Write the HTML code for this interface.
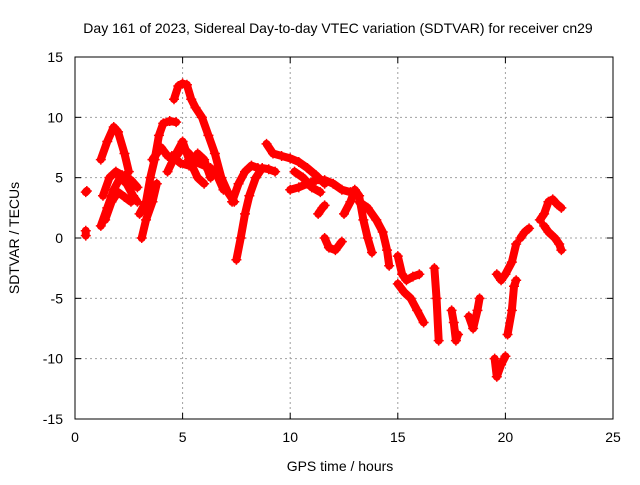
<!DOCTYPE html>
<html><head><meta charset="utf-8"><style>
body{margin:0;background:#fff}
svg text{font-family:"Liberation Sans",sans-serif;font-size:14px;fill:#000}
</style></head><body>
<svg id="chart" width="640" height="480" viewBox="0 0 640 480" xmlns="http://www.w3.org/2000/svg">
<rect width="640" height="480" fill="#fff"/>
<text x="338" y="33" text-anchor="middle">Day 161 of 2023, Sidereal Day-to-day VTEC variation (SDTVAR) for receiver cn29</text>
<g id="grid"></g>
<g id="ticks"></g>
<g id="series"></g>
<rect x="75" y="57" width="538" height="362" fill="none" stroke="#000" stroke-width="1"/>
<text x="340" y="471" text-anchor="middle">GPS time / hours</text>
<text transform="translate(19,238) rotate(-90)" text-anchor="middle">SDTVAR / TECUs</text>
</svg>
<script>
const xTicks=[0,5,10,15,20,25];
const yTicks=[-15,-10,-5,0,5,10,15];
const tracks=[
[[0.5,3.8],[0.55,3.9]],
[[0.5,0.2],[0.5,0.6]],
[[1.2,6.5],[1.5,8],[1.8,9.2],[2.0,8.8],[2.3,7],[2.5,5.5]],
[[1.2,1],[1.5,2.5],[1.8,4],[2.1,5],[2.4,4.5],[2.7,3.5],[2.9,3]],
[[1.3,3.5],[1.6,5],[1.9,5.5],[2.2,5.2],[2.6,4.8],[2.9,4.2]],
[[1.4,1.5],[1.7,3],[2.0,3.8],[2.3,3.4],[2.6,3]],
[[3.0,2],[3.3,3],[3.5,5],[3.7,6.5],[3.9,8.5],[4.1,9.5],[4.4,9.7],[4.7,9.6]],
[[3.1,0],[3.3,1.5],[3.6,3],[3.8,4.5]],
[[4.6,11.5],[4.8,12.6],[5.0,12.8],[5.2,12.7],[5.4,11.5],[5.6,10.8],[5.9,10],[6.2,8.5],[6.5,7],[6.8,5],[7.1,3.8],[7.4,3]],
[[3.6,6.5],[4.0,7.5],[4.3,6.8],[4.6,6.5],[5.0,7.5],[5.3,7],[5.6,6.3],[6.0,6],[6.3,5.8],[6.6,5.2],[6.9,4]],
[[4.3,5.5],[4.7,7],[5.0,8],[5.3,6.5],[5.7,5],[6.0,4.5]],
[[4.5,6.8],[4.9,6.2],[5.3,6],[5.7,7],[6.0,6.5],[6.3,5]],
[[7.5,-1.8],[7.7,0],[7.9,2],[8.1,3.5],[8.4,5],[8.7,5.8],[9.0,5.7],[9.3,5.5]],
[[7.3,3],[7.6,4.5],[7.9,5.5],[8.2,6],[8.5,5.8]],
[[8.9,7.8],[9.2,7],[9.6,6.8],[10.0,6.6],[10.4,6.3],[10.8,5.8],[11.2,5.2],[11.6,4.5]],
[[10.0,4],[10.4,4.2],[10.8,4.5],[11.2,4.8],[11.6,4.8],[12,4.5],[12.4,4],[12.8,3.8],[13.2,3.5]],
[[10.2,5.5],[10.6,5],[11.0,4.2],[11.4,3.8]],
[[11.3,2],[11.5,2.5],[11.6,2.7]],
[[11.6,0],[11.8,-0.8],[12.1,-1],[12.4,-0.3]],
[[12.5,2],[12.8,3],[13.0,4],[13.2,3.5],[13.4,1.5],[13.6,0],[13.8,-1.2]],
[[13.2,3],[13.6,2.5],[14.0,1.5],[14.3,0.5],[14.5,-1],[14.6,-2.3]],
[[15.0,-1.5],[15.2,-3],[15.4,-3.5],[15.7,-3.2],[16.0,-3]],
[[15.0,-3.8],[15.3,-4.5],[15.6,-5],[15.9,-6],[16.2,-7]],
[[16.7,-2.5],[16.8,-5],[16.9,-8.5]],
[[17.5,-6],[17.6,-7],[17.7,-8.5],[17.8,-8]],
[[18.3,-6.5],[18.5,-7.5],[18.7,-6],[18.8,-5]],
[[19.5,-10],[19.6,-11.5],[19.8,-10.5],[20.0,-9.8]],
[[19.6,-3],[19.8,-3.5],[20.0,-3],[20.3,-2],[20.5,-0.5]],
[[20.1,-8],[20.3,-6],[20.4,-4],[20.5,-3.5]],
[[20.7,0],[20.9,0.5],[21.1,0.8]],
[[21.6,1.5],[21.8,2],[22.0,3],[22.2,3.2],[22.4,2.8],[22.6,2.5]],
[[21.8,1],[22,0.5],[22.3,0],[22.5,-0.5],[22.6,-1]]
];
const NS="http://www.w3.org/2000/svg";
const X0=75,X1=613,Y0=419,Y1=57;
function sx(v){return X0+(v-0)/25*(X1-X0);}
function sy(v){return Y0-(v+15)/30*(Y0-Y1);}
function mk(tag,at,parent){const e=document.createElementNS(NS,tag);for(const k in at)e.setAttribute(k,at[k]);parent.appendChild(e);return e;}
const grid=document.getElementById('grid'),ticks=document.getElementById('ticks'),ser=document.getElementById('series');
xTicks.forEach(t=>{
  const x=sx(t);
  if(t>0&&t<25){const g=mk('line',{x1:x,x2:x,y1:Y1,y2:Y0,stroke:'#a0a0a0','stroke-dasharray':'2,3'},grid);
  
  }
  mk('line',{x1:x,x2:x,y1:Y0,y2:Y0-6,stroke:'#000'},ticks);
  mk('line',{x1:x,x2:x,y1:Y1,y2:Y1+6,stroke:'#000'},ticks);
  const l=mk('text',{x:x,y:Y0+23,'text-anchor':'middle'},ticks);l.textContent=t;
  
  
});
yTicks.forEach(t=>{
  const y=sy(t);
  if(t>-15&&t<15){const g=mk('line',{x1:X0,x2:X1,y1:y,y2:y,stroke:'#a0a0a0','stroke-dasharray':'2,3'},grid);
  
  }
  mk('line',{x1:X0,x2:X0+6,y1:y,y2:y,stroke:'#000'},ticks);
  mk('line',{x1:X1,x2:X1-6,y1:y,y2:y,stroke:'#000'},ticks);
  const l=mk('text',{x:X0-12,y:y+5,'text-anchor':'end'},ticks);l.textContent=t;
  
  
});
tracks.forEach(tr=>{
  const p=mk('polyline',{points:tr.map(d=>sx(d[0])+','+sy(d[1])).join(' '),fill:'none',stroke:'#ff0000','stroke-width':8,'stroke-linejoin':'round','stroke-linecap':'round'},ser);
  
  
  tr.forEach(d=>{
    const x=sx(d[0]),y=sy(d[1]);
    const m=mk('path',{d:`M${x-5},${y}H${x+5}M${x},${y-5}V${y+5}`,stroke:'#ff0000','stroke-width':1.5},ser);
    
    
  });
});
</script>
</body></html>
